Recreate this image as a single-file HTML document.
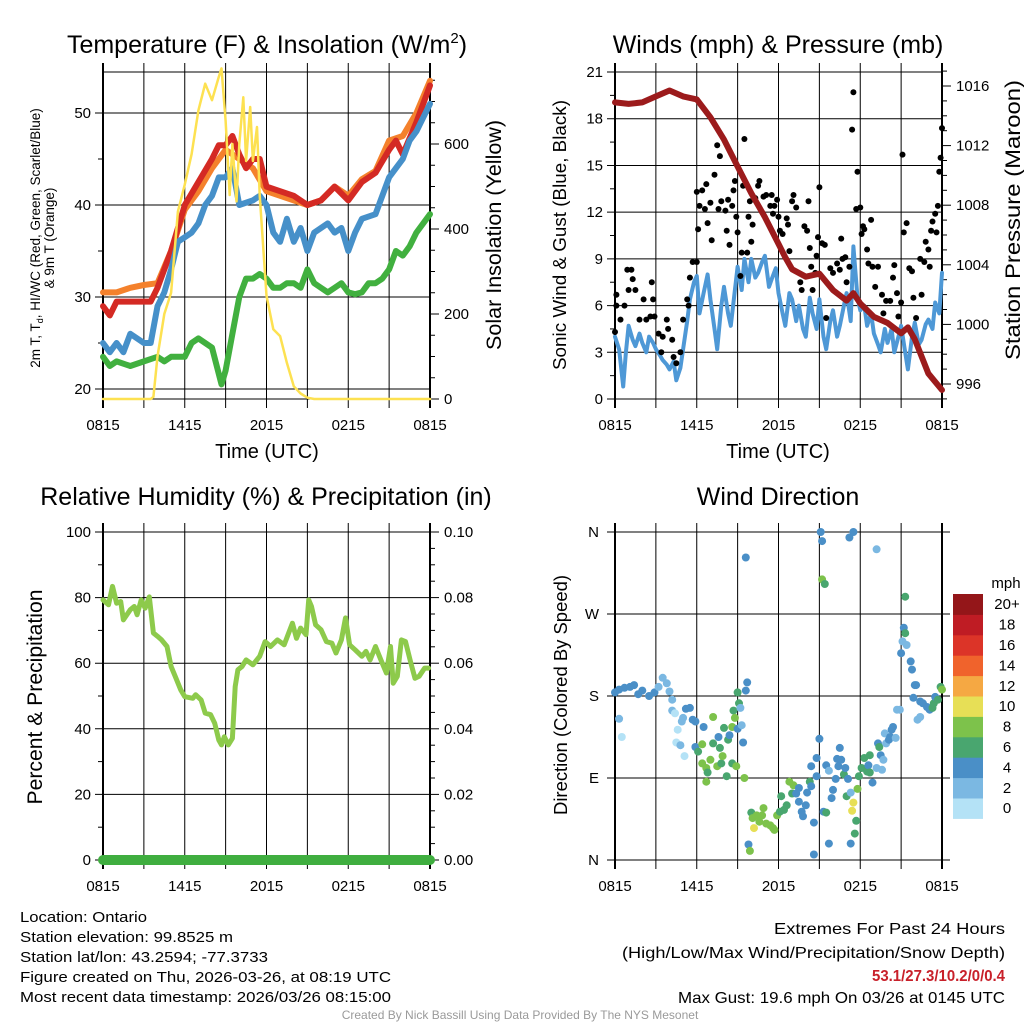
<!DOCTYPE html>
<html><head><meta charset="utf-8"><style>
html,body{margin:0;padding:0;background:#fff;}
svg{display:block;font-family:"Liberation Sans",Arial,sans-serif;}
</style></head><body>
<svg id="fig" width="1024" height="1024" viewBox="0 0 1024 1024" xmlns="http://www.w3.org/2000/svg">
<rect x="0" y="0" width="1024" height="1024" fill="#fff"/>
<text x="267" y="53" font-size="25" text-anchor="middle">Temperature (F) &amp; Insolation (W/m<tspan dy="-10" font-size="15">2</tspan><tspan dy="10">)</tspan></text>
<text x="778" y="53" font-size="25" text-anchor="middle">Winds (mph) &amp; Pressure (mb)</text>
<text x="266" y="505" font-size="25" text-anchor="middle">Relative Humidity (%) &amp; Precipitation (in)</text>
<text x="778" y="505" font-size="25" text-anchor="middle">Wind Direction</text>
<text transform="translate(40,238) rotate(-90)" font-size="13.5" text-anchor="middle">2m T, T<tspan font-size="9" dy="3">d</tspan><tspan dy="-3">, HI/WC (Red, Green, Scarlet/Blue)</tspan></text>
<text transform="translate(54,238) rotate(-90)" font-size="13.5" text-anchor="middle">&amp; 9m T (Orange)</text>
<text transform="translate(501,235) rotate(-90)" font-size="21" text-anchor="middle" textLength="230" lengthAdjust="spacingAndGlyphs">Solar Insolation (Yellow)</text>
<text transform="translate(566,235) rotate(-90)" font-size="18" text-anchor="middle" textLength="270" lengthAdjust="spacingAndGlyphs">Sonic Wind &amp; Gust (Blue, Black)</text>
<text transform="translate(1020,220) rotate(-90)" font-size="21" text-anchor="middle" textLength="280" lengthAdjust="spacingAndGlyphs">Station Pressure (Maroon)</text>
<text transform="translate(42,697) rotate(-90)" font-size="21" text-anchor="middle" textLength="215" lengthAdjust="spacingAndGlyphs">Percent &amp; Precipitation</text>
<text transform="translate(567,695) rotate(-90)" font-size="18" text-anchor="middle" textLength="240" lengthAdjust="spacingAndGlyphs">Direction (Colored By Speed)</text>
<text x="267" y="458" font-size="20" text-anchor="middle">Time (UTC)</text>
<text x="778" y="458" font-size="20" text-anchor="middle">Time (UTC)</text>
<g font-size="15">
<text x="20" y="922" textLength="127" lengthAdjust="spacingAndGlyphs">Location: Ontario</text>
<text x="20" y="942" textLength="213" lengthAdjust="spacingAndGlyphs">Station elevation: 99.8525 m</text>
<text x="20" y="962" textLength="248" lengthAdjust="spacingAndGlyphs">Station lat/lon: 43.2594; -77.3733</text>
<text x="20" y="982" textLength="371" lengthAdjust="spacingAndGlyphs">Figure created on Thu, 2026-03-26, at 08:19 UTC</text>
<text x="20" y="1002" textLength="371" lengthAdjust="spacingAndGlyphs">Most recent data timestamp: 2026/03/26 08:15:00</text>
</g>
<g font-size="16">
<text x="774" y="934" textLength="231" lengthAdjust="spacingAndGlyphs">Extremes For Past 24 Hours</text>
<text x="622" y="958" textLength="383" lengthAdjust="spacingAndGlyphs">(High/Low/Max Wind/Precipitation/Snow Depth)</text>
<text x="872" y="981" textLength="133" lengthAdjust="spacingAndGlyphs" fill="#c8202a" font-weight="bold">53.1/27.3/10.2/0/0.4</text>
<text x="678" y="1003" textLength="327" lengthAdjust="spacingAndGlyphs">Max Gust: 19.6 mph On 03/26 at 0145 UTC</text>
</g>
<text x="520" y="1019" font-size="12" fill="#9a9a9a" text-anchor="middle">Created By Nick Bassill Using Data Provided By The NYS Mesonet</text>
</svg>
<script>
const xTickLabels = ['0815','1415','2015','0215','0815'];
// Panel 1 data: [hour, value]
const tempRed = [[0,29],[0.5,28],[1,29.5],[2,29.5],[3,29.5],[3.5,29.5],[4,31],[5,35],[6,40],[7,42.5],[8,45],[8.5,46.5],[9,46.5],[9.5,47.5],[10,45.5],[10.5,44],[11,45],[11.5,45],[12,42],[13,41.5],[14,41],[15,40],[16,40.5],[17,42],[18,40.5],[19,42.5],[20,43.5],[21,46],[21.5,47],[22,45.5],[23,49],[24,53]];
const temp9m = [[0,30.5],[1,30.5],[2,31],[3,31.3],[4,31.5],[5,35],[6,39.5],[7,41.5],[8,44],[9,46],[10,45],[11,44],[12,41.5],[13,41],[14,40.5],[15,40],[16,40.5],[17,42],[18,41],[19,42.8],[20,43.7],[21,47],[22,47.5],[23,50],[24,53.5]];
const tempHiWc = [[0,25],[0.5,24],[1,25],[1.5,24],[2,26],[3,25],[3.5,25],[4,29],[4.5,30.5],[5,33],[5.5,36],[6,36.5],[6.5,37],[7,38],[7.5,40],[8,41],[8.5,43],[9,43],[9.5,44],[10,40],[11,40.5],[11.5,41],[12,40],[12.5,37],[13,36],[13.5,38.5],[14,36],[14.5,37.5],[15,35],[15.5,37],[16,37.5],[16.5,38],[17,37],[17.5,37.5],[18,35],[18.5,37],[19,38.5],[20,39],[20.5,41],[21,43],[21.5,44],[22,45],[22.5,47],[23,48],[24,51]];
const dewpoint = [[0,23.5],[0.5,22.5],[1,23],[2,22.5],[3,23],[4,23.5],[4.5,23],[5,23.5],[5.5,23.5],[6,23.5],[6.5,25],[7,25.5],[7.5,25],[8,24.5],[8.7,20.5],[9,22],[9.5,26],[10,30],[10.5,32],[11,32],[11.5,32.5],[12,32],[12.5,31],[13,31],[13.5,31.5],[14,31.5],[14.5,31],[15,33],[15.5,31.5],[16,31],[16.5,30.5],[17,31],[17.5,31.5],[18,30.5],[18.5,30.3],[19,30.5],[19.5,31.5],[20,31.5],[20.5,32],[21,33],[21.5,35],[22,34.5],[22.5,35.5],[23,37],[24,39]];
const solar = [[0,0],[3.5,0],[3.7,5],[4,100],[4.5,200],[5,250],[5.5,441],[6,505],[6.5,576],[7,679],[7.5,742],[8,703],[8.5,758],[8.7,778],[9,655],[9.3,480],[9.5,600],[9.8,465],[10,600],[10.3,710],[10.5,560],[10.8,687],[11,560],[11.3,640],[11.5,480],[12,243],[12.5,164],[13,148],[13.5,85],[14,30],[14.5,13],[15,3],[15.5,0],[24,0]];
const tempTicks = [20,30,40,50];
const solarTicks = [0,200,400,600];
// Panel 2 data
const pressure = [[0,1014.9],[1,1014.8],[2,1014.9],[3,1015.3],[4,1015.7],[5,1015.3],[6,1015.1],[7,1013.9],[8,1012.4],[9,1010.6],[10,1008.8],[11,1007.2],[12,1005.4],[12.5,1004.5],[13,1003.7],[14,1003.2],[15,1003.4],[16,1002.3],[17,1001.6],[17.5,1002.1],[18,1001.4],[19,1000.5],[20,1000.1],[21,999.4],[21.5,999.8],[22,999.0],[23,996.7],[24,995.6]];
const sonicWind = [[0,4],[0.3,3.2],[0.6,0.8],[0.8,3],[1,4.7],[1.3,3.8],[1.5,3.4],[1.8,4.2],[2,3.6],[2.3,3],[2.5,4],[2.8,3.6],[3,3.2],[3.3,2.8],[3.5,2.5],[3.8,2.2],[4,1.9],[4.3,2.4],[4.5,1.2],[4.8,2],[5,3.2],[5.3,5],[5.5,6.4],[5.8,7.5],[6,7.9],[6.2,5.5],[6.5,6.8],[6.8,8],[7,6.4],[7.3,4.5],[7.5,3.2],[7.8,6],[8,7.2],[8.3,5.5],[8.5,4.7],[8.8,7],[9,8.5],[9.3,7],[9.5,9],[9.8,7.5],[10,9],[10.3,7.8],[10.5,8.1],[10.8,8.8],[11,9.2],[11.3,7.2],[11.5,7.7],[11.8,8.4],[12,6.8],[12.3,5.5],[12.5,4.7],[12.8,6.8],[13,6.4],[13.3,5],[13.5,6],[13.8,4.5],[14,4],[14.3,6.5],[14.5,5.5],[14.8,4.5],[15,6.4],[15.3,4],[15.5,3.2],[15.8,5],[16,5.7],[16.3,4],[16.5,4.7],[16.8,6],[17,6.8],[17.3,5],[17.5,9.8],[17.8,6.5],[18,5.7],[18.3,6],[18.5,4.7],[18.8,5.5],[19,4.2],[19.3,3.5],[19.5,3],[19.8,4.5],[20,3.6],[20.3,4.5],[20.5,3],[20.8,4],[21,4.7],[21.3,3],[21.5,1.9],[21.8,4],[22,4.9],[22.3,3.5],[22.5,3.8],[22.8,4.8],[23,5.1],[23.3,4.5],[23.5,6.2],[23.8,5.5],[24,8.1]];
const gusts = [[0,4.3],[0.1,6.7],[0.1,6],[0.4,5.1],[0.7,6],[0.9,8.3],[1.2,8.3],[1.3,7.7],[1,7],[1.5,7],[1.8,5.1],[2.1,6.4],[2.3,5.1],[2.6,5.3],[2.7,7.5],[2.8,6.4],[2.9,5.3],[3.2,4.2],[3.4,3],[3.5,4],[3.8,5.1],[3.9,4.5],[4.2,3.8],[4.3,2.7],[4.5,2.3],[4.8,3],[5,5.1],[5.3,6.4],[5.4,6],[5.5,7.8],[5.7,8.8],[6,8.8],[6.1,10.9],[6,13.3],[6.2,12.4],[6.4,13.4],[6.6,12.2],[6.7,13.8],[6.8,11.3],[7,12.6],[7.1,10.2],[7.3,14.4],[7.5,16.3],[7.6,12.2],[7.7,15.6],[7.8,12.7],[8.1,12.1],[8.2,10.8],[8.3,12.8],[8.4,9.9],[8.6,12.4],[8.7,13.4],[8.8,14],[8.9,11.7],[9,10.7],[9.2,7.9],[9.3,9.4],[9.4,13.7],[9.5,16.7],[9.7,9.4],[9.8,11.7],[9.9,12.7],[10,10.1],[10.1,11.2],[10.3,12.9],[10.5,13.7],[10.6,14],[10.9,13],[11.1,13.1],[11.4,12.4],[11.5,13.1],[11.6,11.9],[11.7,12.4],[11.9,12.8],[12,11.7],[12.1,10.8],[12.3,10.6],[12.6,11.6],[12.7,11.2],[12.8,9.5],[13,12.7],[13.1,13.1],[13.3,12.3],[13.6,7.5],[13.7,7],[13.9,11.1],[14.1,10.8],[14.2,12.7],[14.3,9.7],[14.4,8.5],[14.5,7],[14.7,8.1],[14.8,9.2],[14.9,10.4],[15,13.6],[15.2,10],[15.4,9.9],[15.5,5.2],[15.8,8.4],[16,8.1],[16.3,8.7],[16.5,8.3],[16.6,10.3],[16.7,9],[16.9,9.1],[17,7.5],[17.2,8.5],[17.4,17.3],[17.5,19.7],[17.7,12.2],[17.8,14.6],[18,12.3],[18.1,10.6],[18.2,11.1],[18.3,10.9],[18.5,9.6],[18.6,8.7],[18.8,11.5],[18.9,8.5],[19.1,7.2],[19.3,8.5],[19.6,6.7],[19.7,5.5],[19.9,6.3],[20.2,6.3],[20.4,7.8],[20.5,8.6],[20.7,6.8],[20.8,5.3],[21,6.2],[21.1,15.7],[21.2,10.7],[21.4,11.3],[21.6,8.4],[21.8,8.2],[21.9,6.5],[22.1,5.2],[22.4,9],[22.5,6.7],[22.7,8.8],[22.8,10.1],[23,9.6],[23.1,8.5],[23.2,10.8],[23.3,11.4],[23.5,11.9],[23.6,10.7],[23.7,12.4],[23.8,14.6],[23.9,15.5],[24,17.4]];
const windTicks = [0,3,6,9,12,15,18,21];
const pressureTicks = [996,1000,1004,1008,1012,1016];
// Panel 3 data
const humidity = [[0,79.3],[0.4,77.8],[0.7,83.4],[1,78.3],[1.3,78.8],[1.5,73.2],[2,76.3],[2.3,77.3],[2.5,74.8],[2.8,79.3],[3.1,76.8],[3.4,80.2],[3.7,69.2],[4,68.2],[4.3,67.1],[4.7,65.1],[5,59],[5.3,56],[5.7,51.9],[6,49.8],[6.6,49.3],[6.8,50.4],[7.2,48.8],[7.5,44.8],[7.9,44.3],[8.2,41.7],[8.5,36.6],[8.7,35.1],[8.9,37.6],[9.2,35.1],[9.5,37.1],[9.7,52.9],[9.9,58],[10.2,59],[10.5,61],[11,59.5],[11.5,62.1],[11.9,66.6],[12.3,65.1],[12.8,67.1],[13.3,65.6],[13.9,72.2],[14.2,67.6],[14.5,70.7],[14.9,68.7],[15.1,79.3],[15.3,77.3],[15.6,71.7],[16,70.2],[16.4,66.6],[16.8,66.1],[17.1,63.1],[17.5,67.1],[17.8,73.8],[18.1,65.6],[18.5,64.1],[19,62.1],[19.3,63.6],[19.6,61],[20,65.1],[20.4,61],[20.8,57],[21.1,65.1],[21.3,53.9],[21.6,56],[21.9,67.1],[22.2,66.6],[22.6,60],[22.9,55.4],[23.2,56],[23.6,58.5],[23.9,58.5]];
const precip = [[0,0],[24,0]];
const rhTicks = [0,20,40,60,80,100];
const precipTicks = ['0.00','0.02','0.04','0.06','0.08','0.10'];
// Panel 4 data: [hour, direction deg, speed mph]
const windDir = [[0,184,4],[0.3,187,4],[0.7,189,4],[1.1,190,4],[1.4,192,4],[1.7,182,4],[2,186,4],[2.5,180,4],[2.9,184,4],[3.2,190,3],[3.5,200,3],[3.8,194,3],[4,185,3],[4.2,176,3],[4.2,164,3],[4.4,161,1],[4.6,143,1],[4.5,129,1],[4.8,126,3],[5.1,114,1],[0.3,155,3],[0.5,135,1],[4.9,152,3],[5,156,3],[5.2,166,5],[5.5,167,5],[5.7,154,5],[5.9,152,5],[6.5,146,5],[5.9,124,5],[6.1,119,7],[6.4,127,9],[6.4,106,9],[6.7,101,9],[6.8,96,7],[6.7,86,9],[7,110,9],[7.2,157,9],[7.2,128,7],[7.5,103,9],[7.6,135,5],[7.7,123,7],[7.8,106,7],[7.9,114,9],[8,145,7],[8.2,92,7],[8.3,132,7],[8.4,137,5],[8.6,106,7],[8.6,146,9],[8.7,164,7],[8.8,156,9],[8.9,103,9],[9,144,5],[9,184,7],[9.1,172,7],[9.2,167,3],[9.3,148,3],[9.4,129,5],[9.5,90,9],[9.6,186,5],[9.7,195,5],[9.6,332,5],[9.8,17,5],[9.9,10,9],[10,52,7],[10.1,46,9],[10.2,35,10],[10.4,49,9],[10.6,42,9],[10.8,49,9],[10.9,57,9],[11.1,40,9],[11.4,38,9],[11.6,35,9],[11.7,33,9],[11.9,49,9],[12.1,53,7],[12.2,70,7],[12.4,55,7],[12.6,60,7],[12.8,86,9],[13,73,7],[13.1,82,9],[13.3,73,5],[13.5,79,5],[13.5,64,5],[13.7,53,5],[13.8,48,5],[14,60,5],[14.1,74,5],[14.3,86,7],[14.4,103,5],[14.4,81,5],[14.6,41,5],[14.6,6,5],[14.8,112,5],[14.8,92,5],[15,133,5],[15.1,360,5],[15.2,350,5],[15.2,308,9],[15.4,303,7],[15.3,53,5],[15.5,52,7],[15.5,104,5],[15.7,98,3],[15.7,18,5],[15.9,68,5],[16,77,5],[16.2,89,5],[16.3,111,5],[16.4,103,5],[16.5,123,5],[16.6,110,5],[16.8,94,7],[16.9,101,5],[17,70,7],[17.1,89,5],[17.3,74,3],[17.3,18,5],[17.2,354,5],[17.5,360,5],[17.5,63,10],[17.4,54,10],[17.7,43,7],[17.6,29,7],[17.8,78,9],[17.9,92,7],[18.1,101,7],[18.3,112,7],[18.5,97,7],[18.6,104,5],[18.7,115,7],[18.7,96,7],[18.9,85,5],[19.2,341,3],[19.2,101,3],[19.3,128,5],[19.4,124,7],[19.5,115,5],[19.6,99,3],[19.7,110,3],[19.8,139,3],[19.9,128,3],[20.1,132,5],[20.2,135,5],[20.3,143,5],[20.4,146,5],[20.6,134,3],[20.7,165,3],[20.9,165,3],[21,227,5],[21.1,240,3],[21.2,255,5],[21.3,289,7],[21.3,249,7],[21.4,236,3],[21.7,218,5],[21.8,209,5],[22,192,5],[22.1,192,5],[21.9,178,5],[22.2,154,3],[22.4,157,3],[22.4,174,5],[22.6,172,5],[22.9,168,5],[23.1,165,5],[23.3,167,7],[23.4,172,7],[23.5,179,5],[23.7,176,7],[23.9,190,7],[24,187,9]];
const dirTicks = ['N','E','S','W','N'];
const speedLabels = ['0','2','4','6','8','10','12','14','16','18','20+'];
const speedColors = ['#b4e2f6','#7bb8e2','#4a8fc7','#49a66f','#7dc24b','#e7df56','#f5a843','#f0632c','#dc3428','#bf1c24','#941619'];

const NS='http://www.w3.org/2000/svg';
const svg=document.getElementById('fig');
function el(tag,attrs,parent){const e=document.createElementNS(NS,tag);for(const k in attrs)e.setAttribute(k,attrs[k]);(parent||svg).appendChild(e);return e;}
function txt(s,attrs,parent){const e=el('text',attrs,parent);e.textContent=s;return e;}

function makePanel(name,x0,x1,y0,y1){
  const g=el('g',{});
  
  
  const xs=h=>x0+h/24*(x1-x0);
  return {g,x0,x1,y0,y1,xs};
}
function drawFrameAndX(P){
  for(let i=0;i<=8;i++){
    const x=P.xs(i*3);
    const l=el('line',{x1:x,x2:x,y1:P.y0-9,y2:P.y1+9,stroke:'#000','stroke-width':(i==0||i==8)?2:1},P.g);
    
    
  }
  xTickLabels.forEach((s,i)=>{
    const t=txt(s,{x:P.xs(i*6),y:P.y1+31,'font-size':15,'text-anchor':'middle'},P.g);
    
    
  });
}
function hLine(P,y,cls){
  const l=el('line',{x1:P.x0-8,x2:P.x1,y1:y,y2:y,stroke:'#000','stroke-width':1},P.g);
  
  
}
function rTick(P,y,len){
  const l=el('line',{x1:P.x1,x2:P.x1+len,y1:y,y2:y,stroke:'#000','stroke-width':1},P.g);
  
  
}
function lTick(P,y){
  const l=el('line',{x1:P.x0-5,x2:P.x0,y1:y,y2:y,stroke:'#000','stroke-width':1},P.g);
  
  
}
function label(P,s,x,y,anchor,name){
  const t=txt(s,{x:x,y:y+5,'font-size':15,'text-anchor':anchor},P.g);
  
  
}
function path(P,data,xs,ys,color,w,name){
  const d=data.map((p,i)=>(i?'L':'M')+xs(p[0]).toFixed(1)+','+ys(p[1]).toFixed(1)).join('');
  const e=el('path',{d:d,fill:'none',stroke:color,'stroke-width':w,'stroke-linejoin':'round','stroke-linecap':'round'},P.g);
  
  
}

// ---- Panel 1
const P1=makePanel('temperature-panel',103,430,72,399);
const yT=v=>389-(v-20)*9.2, yS=v=>399-v*0.425;
drawFrameAndX(P1);
tempTicks.forEach(v=>{hLine(P1,yT(v),'temp-grid-line');label(P1,String(v),P1.x0-12,yT(v),'end','temp-tick-label');});
[25,35,45].forEach(v=>lTick(P1,yT(v)));
for(let v=0;v<=750;v+=50){rTick(P1,yS(v),v%200==0?9:5);}
solarTicks.forEach(v=>label(P1,String(v),P1.x1+14,yS(v),'start','solar-tick-label'));
const xa1=el('line',{x1:P1.x0,x2:P1.x1,y1:P1.y1,y2:P1.y1,stroke:'#000'},P1.g);


const tf1=el('line',{x1:P1.x0,x2:P1.x1,y1:P1.y0,y2:P1.y0,stroke:'#000'},P1.g);


path(P1,temp9m,P1.xs,yT,'#f4812c',6,'temp-9m-line');
path(P1,tempRed,P1.xs,yT,'#d42a24',6,'temp-2m-line');
path(P1,tempHiWc,P1.xs,yT,'#4690c9',6,'heat-index-wind-chill-line');
path(P1,dewpoint,P1.xs,yT,'#41b03f',6,'dewpoint-line');
path(P1,solar,P1.xs,yS,'#fde151',2.5,'solar-insolation-line');

// ---- Panel 2
const P2=makePanel('winds-panel',615,942,72,399);
const yW=v=>399-v*15.57, yP=p=>384-(p-996)*14.9;
drawFrameAndX(P2);
windTicks.forEach(v=>{hLine(P2,yW(v),'wind-grid-line');label(P2,String(v),P2.x0-12,yW(v),'end','wind-tick-label');});
for(let v=1.5;v<21;v+=3)lTick(P2,yW(v));
for(let p=995;p<=1017;p++){rTick(P2,yP(p),p%4==0?9:5);}
pressureTicks.forEach(v=>label(P2,String(v),P2.x1+14,yP(v),'start','pressure-tick-label'));
path(P2,sonicWind,P2.xs,yW,'#4e98d6',4,'sonic-wind-line');
gusts.forEach(g=>{
  const c=el('circle',{cx:P2.xs(g[0]).toFixed(1),cy:yW(g[1]).toFixed(1),r:3,fill:'#000'},P2.g);
  
  
});
path(P2,pressure,P2.xs,yP,'#9c1b1c',6,'pressure-line');

// ---- Panel 3
const P3=makePanel('humidity-panel',103,430,532,860);
const yR=v=>860-v*3.28, yPr=v=>860-v*3280;
drawFrameAndX(P3);
rhTicks.forEach((v,i)=>{hLine(P3,yR(v),'rh-grid-line');label(P3,String(v),P3.x0-12,yR(v),'end','rh-tick-label');label(P3,precipTicks[i],P3.x1+14,yR(v),'start','precip-tick-label');});
[10,30,50,70,90].forEach(v=>lTick(P3,yR(v)));
for(let v=0;v<=100;v+=5)rTick(P3,yR(v),v%20==0?9:5);
path(P3,humidity,P3.xs,yR,'#8dca4b',5,'humidity-line');
path(P3,precip,P3.xs,yPr,'#3fae3f',10,'precipitation-line');

// ---- Panel 4
const P4=makePanel('wind-direction-panel',615,942,532,860);
const yD=d=>860-d*0.911;
drawFrameAndX(P4);
dirTicks.forEach((s,i)=>{
  const y=yD(i*90);
  const l=el('line',{x1:P4.x0-8,x2:P4.x1+8,y1:y,y2:y,stroke:'#000','stroke-width':1},P4.g);
  
  
  label(P4,s,P4.x0-16,y,'end','direction-tick-label');
});
function speedColor(s){let i=Math.floor(s/2);if(i>10)i=10;if(i<0)i=0;return speedColors[i];}
windDir.forEach(d=>{
  const c=el('circle',{cx:P4.xs(d[0]).toFixed(1),cy:yD(d[1]).toFixed(1),r:4,fill:speedColor(d[2])},P4.g);
  
  
});
// colorbar
const cb=el('g',{});


const t0=txt('mph',{x:1006,y:588,'font-size':15,'text-anchor':'middle'},cb);


const boxH=20.4;
speedLabels.forEach((s,i)=>{
  const j=10-i; const y=594+j*boxH;
  const r=el('rect',{x:953,y:y.toFixed(1),width:30,height:(boxH+0.5).toFixed(1),fill:speedColors[i]},cb);
  
  
  const t=txt(s,{x:1007,y:(y+boxH/2+5).toFixed(1),'font-size':15,'text-anchor':'middle'},cb);
  
  
});
</script>
</body></html>
